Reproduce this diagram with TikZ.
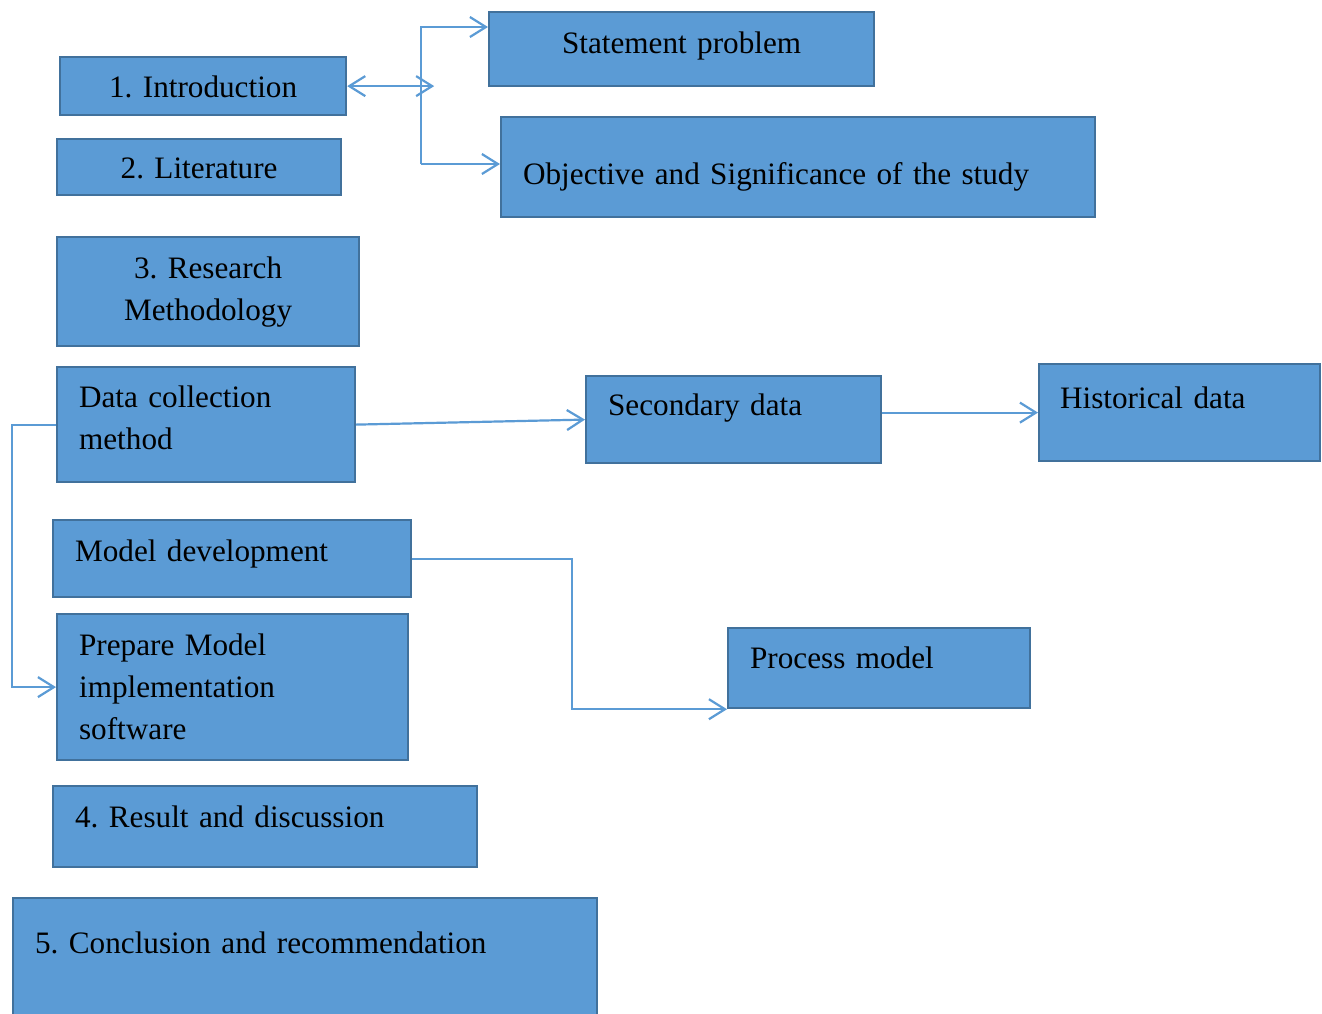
\documentclass[tikz,border=0pt]{standalone}
\usepackage{fontspec}
\setmainfont{Liberation Serif}
\usetikzlibrary{arrows.meta}
\definecolor{boxfill}{HTML}{5B9BD5}
\definecolor{boxedge}{HTML}{41719C}
\definecolor{linkcol}{HTML}{5B9BD5}
\frenchspacing
\tikzset{
  box/.style={draw=boxedge, fill=boxfill, line width=1.1pt, anchor=north west,
    inner ysep=0pt, font=\fontsize{15.6}{21}\selectfont},
  ctrbox/.style={box, inner xsep=0pt, align=center},
  lftbox/.style={box, inner xsep=11pt, align=left},
  link/.style={draw=linkcol, line width=1.1pt},
  tip/.style={-{Straight Barb[length=8pt,width=10pt]}},
  dtip/.style={{Straight Barb[length=8pt,width=10pt]}-{Straight Barb[length=8pt,width=10pt]}},
}
\begin{document}
\begin{tikzpicture}[x=0.5pt,y=-0.5pt]
\clip (0,0) rectangle (1322,1013);
\fill[white] (0,0) rectangle (1322,1013);

% left column: chapters
\node[ctrbox, text width=143pt, text height=20pt, text depth=9pt] (intro) at (59,56) {1. Introduction};
\node[ctrbox, text width=142pt, text height=19.5pt, text depth=8.5pt] (lit) at (56,138) {2. Literature};
\node[ctrbox, text width=151pt, text height=20.5pt, text depth=34pt] (meth) at (56,236) {3. Research\\Methodology};
\node[lftbox, text width=127pt, text height=20pt, text depth=37.5pt] (data) at (56,366) {Data collection\\method};
\node[lftbox, text width=157pt, text height=20.5pt, text depth=18pt] (model) at (52,519) {Model development};
\node[lftbox, text width=153.5pt, text height=20.5pt, text depth=52.5pt] (prep) at (56,613) {Prepare Model\\implementation\\software};
\node[lftbox, text width=190pt, text height=20.5pt, text depth=20pt] (res) at (52,785) {4. Result and discussion};
\node[lftbox, text width=270pt, text height=27.5pt, text depth=37.5pt] (concl) at (12,897) {5. Conclusion and recommendation};

% right side: details
\node[ctrbox, text width=192.5pt, text height=20.5pt, text depth=16.5pt] (stmt) at (488,11) {Statement problem};
\node[lftbox, text width=275pt, text height=33.5pt, text depth=16.5pt] (obj) at (500,116) {Objective and Significance of the study};
\node[lftbox, text width=125.5pt, text height=19.5pt, text depth=24pt] (sec) at (585,375) {Secondary data};
\node[lftbox, inner xsep=10.5pt, text width=119.5pt, text height=22pt, text depth=26.5pt] (hist) at (1038,363) {Historical data};
\node[lftbox, text width=129pt, text height=20pt, text depth=20pt] (proc) at (727,627) {Process model};

% connectors
\coordinate (ttop) at (421,27);
\coordinate (tbot) at (421,164);
\draw[link, dtip] (intro.east) -- ++(43.5pt,0);
\draw[link, tip] (tbot) -- (ttop) -- (ttop -| stmt.west);
\draw[link, tip] (tbot) -- (tbot -| obj.west);
\draw[link, tip] (data.east) -- (sec.west);
\draw[link, tip] (sec.east |- hist.west) -- (hist.west);
\draw[link, tip] (model.east) -- ++(80pt,0) |- (proc.south west);
\draw[link, tip] (data.west) -- ++(-22pt,0) |- (prep.west);
\end{tikzpicture}
\end{document}
